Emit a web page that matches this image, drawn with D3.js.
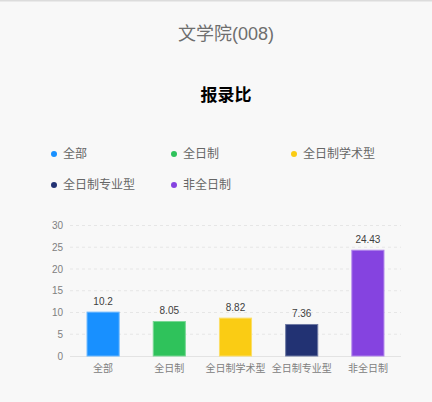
<!DOCTYPE html>
<html><head><meta charset="utf-8">
<script src="https://cdn.jsdelivr.net/npm/d3@7"></script>
<style>
html,body{margin:0;padding:0;background:#f8f8f8;}
svg{display:block;font-family:"Liberation Sans","Noto Sans CJK SC",sans-serif;}
</style></head>
<body><svg id="c" width="432" height="402"></svg>
<script>
const categories = ["全部","全日制","全日制学术型","全日制专业型","非全日制"];
const values = [10.2, 8.05, 8.82, 7.36, 24.43];
const colors = ["#1890ff","#2fc25b","#facc14","#223273","#8543e0"];
const yTicks = [0,5,10,15,20,25,30];
const pageTitle = "文学院(008)";
const chartTitle = "报录比";

const svg = d3.select("#c");
svg.append("rect").attr("x",0).attr("y",0).attr("width",432).attr("height",1.5).attr("fill","#dcdcdc");

svg.append("text").attr("x",226).attr("y",40).attr("text-anchor","middle")
  .attr("font-size",18).attr("fill","#6e6e6e").text(pageTitle);
svg.append("text").attr("x",226).attr("y",101).attr("text-anchor","middle")
  .attr("font-size",17).attr("font-weight","bold").attr("fill","#000")
  .attr("font-family","'Noto Sans CJK SC',sans-serif").text(chartTitle);

// legend
const legPos = [[54,154],[174,154],[294,154],[54,185],[174,185]];
const leg = svg.append("g");
categories.forEach((c,i)=>{
  const g = leg.append("g").attr("transform",`translate(${legPos[i][0]},${legPos[i][1]})`);
  g.append("circle").attr("r",3).attr("fill",colors[i]);
  g.append("text").attr("x",9).attr("y",4.2).attr("font-size",12).attr("fill","#666")
    .attr("font-family","'Noto Sans CJK SC',sans-serif").text(c);
});

const x = d3.scaleBand().domain(categories).range([70,401]).padding(0);
const y = d3.scaleLinear().domain([0,30]).range([356,225.5]);

// grid
svg.append("g").selectAll("line").data(yTicks.filter(t=>t>0)).join("line")
  .attr("x1",70).attr("x2",401).attr("y1",d=>y(d)).attr("y2",d=>y(d))
  .attr("stroke","#e6e6e6").attr("stroke-dasharray","3,3").attr("stroke-width",1);
svg.append("line").attr("x1",70).attr("x2",401).attr("y1",y(0)+0.5).attr("y2",y(0)+0.5)
  .attr("stroke","#e3e3e3");

const yAxis = d3.axisLeft(y).tickValues(yTicks).tickSize(0).tickPadding(0);
const ya = svg.append("g").attr("transform","translate(63,0)").call(yAxis);
ya.select(".domain").remove();
ya.selectAll("text").attr("font-size",10).attr("fill","#808080").attr("font-family","'Liberation Sans',sans-serif");

const xAxis = d3.axisBottom(x).tickSize(0).tickPadding(0);
const xa = svg.append("g").attr("transform",`translate(0,${y(0)+9})`).call(xAxis);
xa.select(".domain").remove();
xa.selectAll("text").attr("font-size",10).attr("fill","#808080").attr("font-family","'Noto Sans CJK SC',sans-serif");

const bw = x.bandwidth()*0.5;
svg.append("g").selectAll("rect").data(values).join("rect")
  .attr("x",(d,i)=>x(categories[i])+x.bandwidth()/2-bw/2+0.5)
  .attr("y",d=>y(d)+0.5).attr("width",bw-1).attr("height",d=>y(0)-y(d)-0.5)
  .attr("fill",(d,i)=>colors[i])
  .attr("stroke",(d,i)=>d3.interpolateRgb(colors[i],"#ffffff")(0.35)).attr("stroke-width",1);

svg.append("g").selectAll("text").data(values).join("text")
  .attr("x",(d,i)=>x(categories[i])+x.bandwidth()/2)
  .attr("y",d=>y(d)-7).attr("text-anchor","middle")
  .attr("font-size",10).attr("fill","#404040")
  .attr("font-family","'Liberation Sans',sans-serif").text(d=>d);
</script></body></html>
